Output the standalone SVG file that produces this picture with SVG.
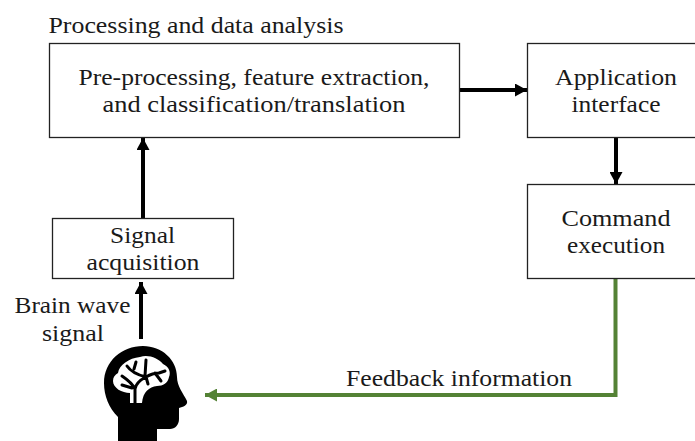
<svg xmlns="http://www.w3.org/2000/svg" width="695" height="441" viewBox="0 0 695 441">
<style>
text{font-family:"Liberation Serif","Times New Roman",serif;font-size:23px;fill:#1a1a1a;text-anchor:middle}
.box{fill:#fff;stroke:#222;stroke-width:1.3}
.conn{fill:none;stroke:#000;stroke-width:4}
.vein{fill:none;stroke:#000;stroke-width:3;stroke-linecap:round;stroke-linejoin:round}
</style>
<defs>
<marker id="arrow" markerUnits="userSpaceOnUse" markerWidth="13" markerHeight="13" refX="12" refY="6.500" orient="auto"><path d="M0 0L12 6.500L0 13Z" fill="#000"/></marker>
<marker id="arrowG" markerUnits="userSpaceOnUse" markerWidth="13" markerHeight="13" refX="12" refY="6.500" orient="auto"><path d="M0 0L12 6.500L0 13Z" fill="#548235"/></marker>
</defs>
<rect width="695" height="441" fill="#fff"/>
<text id="title" x="196" y="33" textLength="295" lengthAdjust="spacingAndGlyphs">Processing and data analysis</text>
<g id="connectors">
<path class="conn" d="M143 218V138" marker-end="url(#arrow)"/>
<path class="conn" d="M141 339V282" marker-end="url(#arrow)"/>
<path class="conn" d="M460 90H527" marker-end="url(#arrow)"/>
<path class="conn" d="M616 138V184" marker-end="url(#arrow)"/>
<path d="M615.500 279V395H205" fill="none" stroke="#548235" stroke-width="4" marker-end="url(#arrowG)"/>
</g>
<g id="node-processing">
<rect class="box" x="49.500" y="43.500" width="410" height="94"/>
<text x="254" y="85" textLength="351" lengthAdjust="spacingAndGlyphs">Pre-processing, feature extraction,</text>
<text x="254" y="112" textLength="303" lengthAdjust="spacingAndGlyphs">and classification/translation</text>
</g>
<g id="node-application">
<rect class="box" x="527.500" y="43.500" width="175" height="94"/>
<text x="616" y="85" textLength="122" lengthAdjust="spacingAndGlyphs">Application</text>
<text x="616" y="112" textLength="89" lengthAdjust="spacingAndGlyphs">interface</text>
</g>
<g id="node-command">
<rect class="box" x="527.500" y="184.500" width="175" height="94"/>
<text x="616" y="226" textLength="109" lengthAdjust="spacingAndGlyphs">Command</text>
<text x="616" y="253" textLength="98" lengthAdjust="spacingAndGlyphs">execution</text>
</g>
<g id="node-signal">
<rect class="box" x="52.500" y="218.500" width="181" height="60"/>
<text x="142.500" y="243" textLength="65" lengthAdjust="spacingAndGlyphs">Signal</text>
<text x="143" y="270" textLength="113" lengthAdjust="spacingAndGlyphs">acquisition</text>
</g>
<g id="label-brain-wave">
<text x="72.500" y="313" textLength="116" lengthAdjust="spacingAndGlyphs">Brain wave</text>
<text x="73" y="341" textLength="62" lengthAdjust="spacingAndGlyphs">signal</text>
</g>
<text id="label-feedback" x="459" y="386" textLength="226" lengthAdjust="spacingAndGlyphs">Feedback information</text>
<g id="node-head">
<path d="M118 441V417C109 408 104 396 104 383C104 361 122 346 143 346C162 346 177 360 177 377C177 386 183 393 187 401C188 405 183 407 179 408V419C179 425 175 429 170 429H157V441Z" fill="#000"/>
<path d="M130 403V393C122 393 113 388 113 381C113 377 115 375 118 373C119 365 129 358 140 357C148 354 158 358 163 364C169 367 171 372 169 377C168 383 163 386 157 386C149 387 143 392 142 403Z" fill="#fff"/>
<path class="vein" d="M135 403V389C132 383 128 380 122 376M135 389C136 383 140 380 146 377C151 374 155 373 159 373M127 366C131 372 138 375 146 377M136 362L134 369M146 360L145 376M155 373L161 381M159 373L165 371M122 385L132 388M146 377L148 384"/>
</g>
</svg>
